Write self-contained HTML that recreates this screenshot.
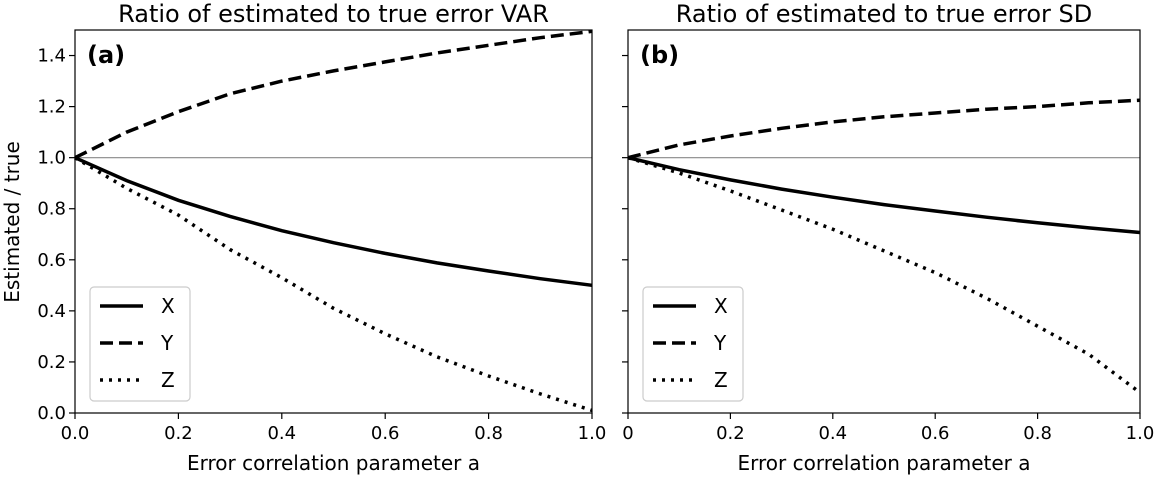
<!DOCTYPE html>
<html><head><meta charset="utf-8"><style>
body{margin:0;background:#fff;}
svg text{font-family:"DejaVu Sans","Liberation Sans",sans-serif;fill:#000;}
</style></head><body>
<svg id="chart" width="1159" height="477" xmlns="http://www.w3.org/2000/svg"></svg>
<script>
const xs=[0,0.1,0.2,0.3,0.4,0.5,0.6,0.7,0.8,0.9,1.0];
const aX=[1,0.91,0.833,0.77,0.714,0.667,0.625,0.588,0.556,0.526,0.5];
const aY=[1,1.1,1.18,1.25,1.3,1.34,1.375,1.41,1.44,1.47,1.495];
const aZ=[1,0.88,0.775,0.64,0.53,0.41,0.31,0.22,0.145,0.075,0.01];
const bX=[1,0.953,0.913,0.877,0.845,0.816,0.791,0.767,0.745,0.725,0.707];
const bY=[1,1.05,1.085,1.115,1.14,1.16,1.175,1.19,1.2,1.215,1.225];
const bZ=[1,0.94,0.87,0.795,0.72,0.635,0.55,0.45,0.34,0.23,0.08];
const xTicks=[0,0.2,0.4,0.6,0.8,1.0];
const xTickLabelsA=["0.0","0.2","0.4","0.6","0.8","1.0"];
const xTickLabelsB=["0","0.2","0.4","0.6","0.8","1.0"];
const yTicks=[0,0.2,0.4,0.6,0.8,1.0,1.2,1.4];
const yTickLabels=["0.0","0.2","0.4","0.6","0.8","1.0","1.2","1.4"];
const svg=document.getElementById('chart');
const NS='http://www.w3.org/2000/svg';
function mk(tag,attrs,parent){const e=document.createElementNS(NS,tag);for(const k in attrs)e.setAttribute(k,attrs[k]);(parent||svg).appendChild(e);return e;}
const pTop=30,pBot=413;
function yS(v){return pBot-(v/1.5)*(pBot-pTop);}
const styles={X:"",Y:"13,6",Z:"3,6"};
function panel(id,left,right,title,letter,series,xlabels,showY){
  const g=mk('g',{});
  
  
  const xS=v=>left+v*(right-left);
  const ref=mk('line',{x1:left,x2:right,y1:yS(1),y2:yS(1),stroke:'#888','stroke-width':1.2},g);
  
  
  for(const name of ['X','Y','Z']){
    const vals=series[name];
    const d=xs.map((x,i)=>(i?'L':'M')+xS(x).toFixed(1)+','+yS(vals[i]).toFixed(1)).join(' ');
    const p=mk('path',{d:d,fill:'none',stroke:'#000','stroke-width':3.5,'stroke-dasharray':styles[name]||'none'},g);
    
    
  }
  const fr=mk('rect',{x:left,y:pTop,width:right-left,height:pBot-pTop,fill:'none',stroke:'#000','stroke-width':1.2},g);
  
  
  xTicks.forEach((t,i)=>{
    mk('line',{x1:xS(t),x2:xS(t),y1:pBot,y2:pBot+6,stroke:'#000','stroke-width':1.2},g);
    const tx=mk('text',{x:xS(t),y:pBot+26,'text-anchor':'middle','font-size':18},g);
    tx.textContent=xlabels[i];
    
    
  });
  yTicks.forEach((t,i)=>{
    mk('line',{x1:left-6,x2:left,y1:yS(t),y2:yS(t),stroke:'#000','stroke-width':1.2},g);
    if(showY){
      const tx=mk('text',{x:left-9,y:yS(t)+6,'text-anchor':'end','font-size':18},g);
      tx.textContent=yTickLabels[i];
      
      
    }
  });
  const ti=mk('text',{x:(left+right)/2,y:22,'text-anchor':'middle','font-size':24},g);
  ti.textContent=title;
  
  
  const le=mk('text',{x:left+12,y:63,'font-size':24,'font-weight':'bold'},g);
  le.textContent=letter;
  
  
  const xl=mk('text',{x:(left+right)/2,y:470,'text-anchor':'middle','font-size':20},g);
  xl.textContent='Error correlation parameter a';
  
  
  const lg=mk('g',{},g);
  
  
  mk('rect',{x:left+15,y:287,width:100,height:114,rx:4,fill:'#fff',stroke:'#ccc','stroke-width':1.2},lg);
  ['X','Y','Z'].forEach((n,i)=>{
    const y=306+i*37;
    const ln=mk('line',{x1:left+25,x2:left+68,y1:y,y2:y,stroke:'#000','stroke-width':3.5,'stroke-dasharray':styles[n]||'none'},lg);
    
    
    const t=mk('text',{x:left+86,y:y+7,'font-size':20},lg);
    t.textContent=n;
    
    
  });
}
panel('a',75,592,'Ratio of estimated to true error VAR','(a)',{X:aX,Y:aY,Z:aZ},xTickLabelsA,true);
panel('b',628,1140,'Ratio of estimated to true error SD','(b)',{X:bX,Y:bY,Z:bZ},xTickLabelsB,false);
const yl=mk('text',{x:0,y:0,'text-anchor':'middle','font-size':20,transform:'translate(19,222) rotate(-90)'});
yl.textContent='Estimated / true';


</script>
</body></html>
